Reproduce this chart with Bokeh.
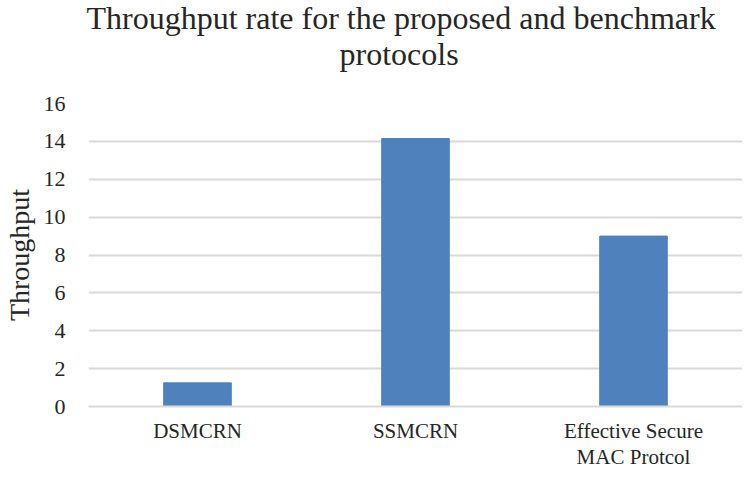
from bokeh.plotting import figure
from bokeh.models import Range1d, Title
from bokeh.embed import file_html
from bokeh.resources import INLINE

# Data
categories = ["DSMCRN", "SSMCRN", "Effective Secure\nMAC Protcol"]
throughput = [1.25, 14.15, 9.0]
y_ticks = [0, 2, 4, 6, 8, 10, 12, 14, 16]
title_lines = ["Throughput rate for the proposed and benchmark", "protocols"]
y_label = "Throughput"

SERIF = "Liberation Serif"
TXT = "#262626"

p = figure(x_range=categories, y_range=Range1d(0, 16), width=742, height=471,
           output_backend="svg", toolbar_location=None, title=None,
           min_border_left=86, min_border_right=0, min_border_top=103,
           min_border_bottom=62)
p.outline_line_color = None
p.background_fill_color = "white"
p.border_fill_color = "white"

p.vbar(x=categories, top=throughput, width=0.31, fill_color="#4F81BD",
       line_color="#4F81BD")

# grid
p.xgrid.grid_line_color = None
p.ygrid.grid_line_color = "#D9D9D9"
p.ygrid.grid_line_width = 2
p.yaxis.ticker = y_ticks

# y axis
p.yaxis.axis_line_color = None
p.yaxis.major_tick_line_color = None
p.yaxis.minor_tick_line_color = None
p.yaxis.major_tick_out = 0
p.yaxis.major_tick_in = 0
p.yaxis.minor_tick_out = 0
p.yaxis.major_label_text_font = SERIF
p.yaxis.major_label_text_font_size = "22px"
p.yaxis.major_label_text_color = TXT
p.yaxis.major_label_standoff = 23
p.yaxis.axis_label = y_label
p.yaxis.axis_label_text_font = SERIF
p.yaxis.axis_label_text_font_size = "28px"
p.yaxis.axis_label_text_font_style = "normal"
p.yaxis.axis_label_text_line_height = 1.0
p.yaxis.axis_label_text_color = TXT
p.yaxis.axis_label_standoff = 6

# x axis
p.xaxis.axis_line_color = "#D9D9D9"
p.xaxis.axis_line_width = 2
p.xaxis.major_tick_line_color = None
p.xaxis.minor_tick_line_color = None
p.xaxis.major_tick_out = 0
p.xaxis.major_tick_in = 0
p.xaxis.minor_tick_out = 0
p.xaxis.major_label_text_font = SERIF
p.xaxis.major_label_text_font_size = "21px"
p.xaxis.major_label_text_line_height = 1.1
p.xaxis.major_label_text_color = TXT
p.xaxis.major_label_standoff = 12
p.xaxis.major_label_orientation = "horizontal"

# title: two lines plus a spacer (nearest to frame added first)
def title_part(txt, offset, standoff, size="32px"):
    return Title(text=txt, align="left", offset=offset, standoff=standoff,
                 text_font=SERIF, text_font_size=size, text_font_style="normal",
                 text_color=TXT)

p.add_layout(title_part(" ", 0, -7), "above")
p.add_layout(title_part(title_lines[1], 251, 2), "above")
p.add_layout(title_part(title_lines[0], -2, -6), "above")

open("out.html", "w").write(file_html(p, INLINE))
